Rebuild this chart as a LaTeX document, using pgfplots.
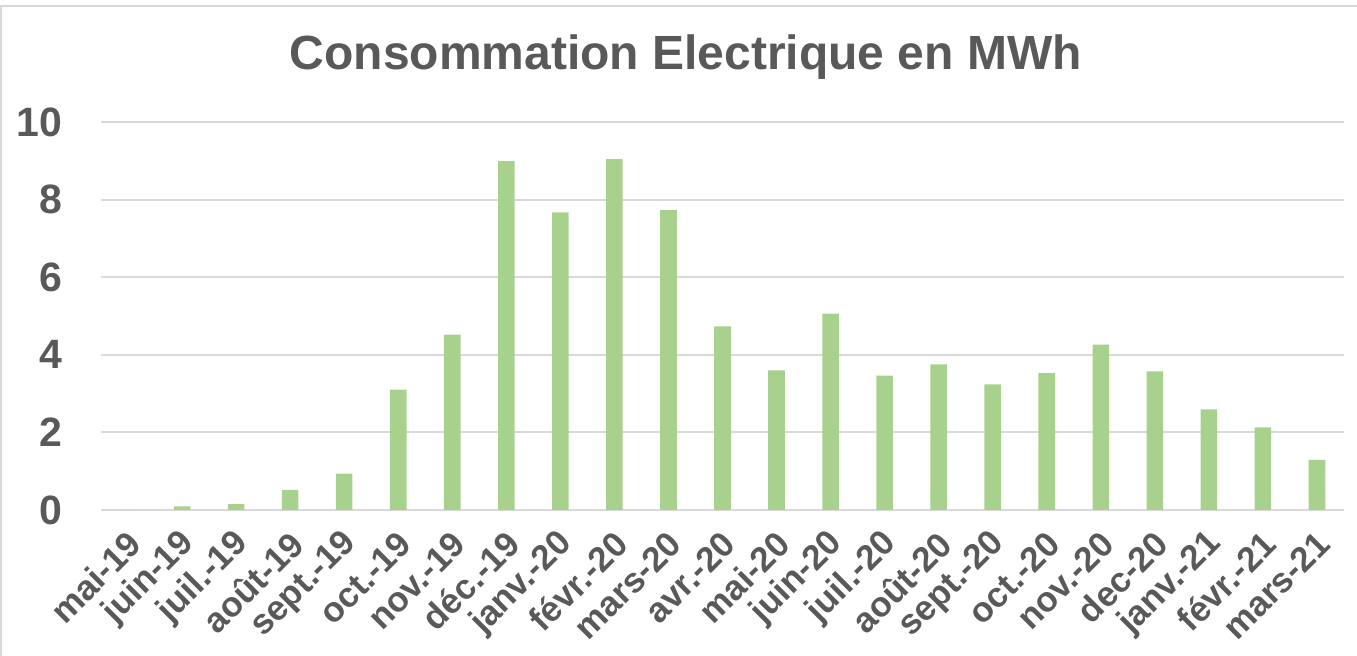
\documentclass[border=0pt]{standalone}
\usepackage{pgfplots}
\pgfplotsset{compat=1.18}
\usepackage{fontspec}
\setmainfont{Liberation Sans}
\definecolor{bargreen}{HTML}{A9D18E}
\definecolor{gridgray}{HTML}{D9D9D9}
\definecolor{textgray}{HTML}{595959}
\begin{document}
\begin{tikzpicture}[x=1pt,y=1pt]
\path[use as bounding box] (-50.5pt,-73pt) rectangle (628pt,255pt);
\draw[gridgray, line width=1pt] (-50pt,-73pt) -- (-50pt,252pt) -- (628pt,252pt);
\begin{axis}[
  at={(0pt,0pt)}, anchor=south west,
  width=621.5pt, height=194pt, scale only axis,
  xmin=-0.5, xmax=22.5, ymin=0, ymax=10,
  ytick={0,2,4,6,8,10},
  xtick={0,...,22},
  xticklabels={mai-19,juin-19,juil.-19,août-19,sept.-19,oct.-19,nov.-19,déc.-19,janv.-20,févr.-20,mars-20,avr.-20,mai-20,juin-20,juil.-20,août-20,sept.-20,oct.-20,nov.-20,dec-20,janv.-21,févr.-21,mars-21},
  axis line style={draw=none},
  major tick length=0pt,
  ymajorgrids,
  grid style={draw=gridgray, line width=1pt},
  /pgf/number format/assume math mode=true,
  yticklabel style={font=\fontsize{20.5}{24}\selectfont\bfseries, text=textgray, anchor=east, inner sep=0pt, xshift=-19pt},
  xticklabel style={font=\fontsize{17.5}{20}\selectfont\bfseries, text=textgray, xshift=3.5pt, yshift=-14pt, rotate=45, anchor=east, inner sep=0pt},
  title={Consommation Electrique en MWh},
  title style={font=\fontsize{24}{28}\selectfont\bfseries, text=textgray, at={(0.4706,1.136)}, anchor=center, yshift=0pt},
  clip=false,
]
\addplot[ybar, bar width=8.3pt, fill=bargreen, draw=none] coordinates {
(0,0) (1,0.09) (2,0.15) (3,0.52) (4,0.94) (5,3.10) (6,4.52) (7,8.99) (8,7.67) (9,9.04) (10,7.73) (11,4.73) (12,3.60) (13,5.06) (14,3.46) (15,3.75) (16,3.24) (17,3.53) (18,4.26) (19,3.57) (20,2.59) (21,2.13) (22,1.29)
};
\end{axis}
\end{tikzpicture}
\end{document}
